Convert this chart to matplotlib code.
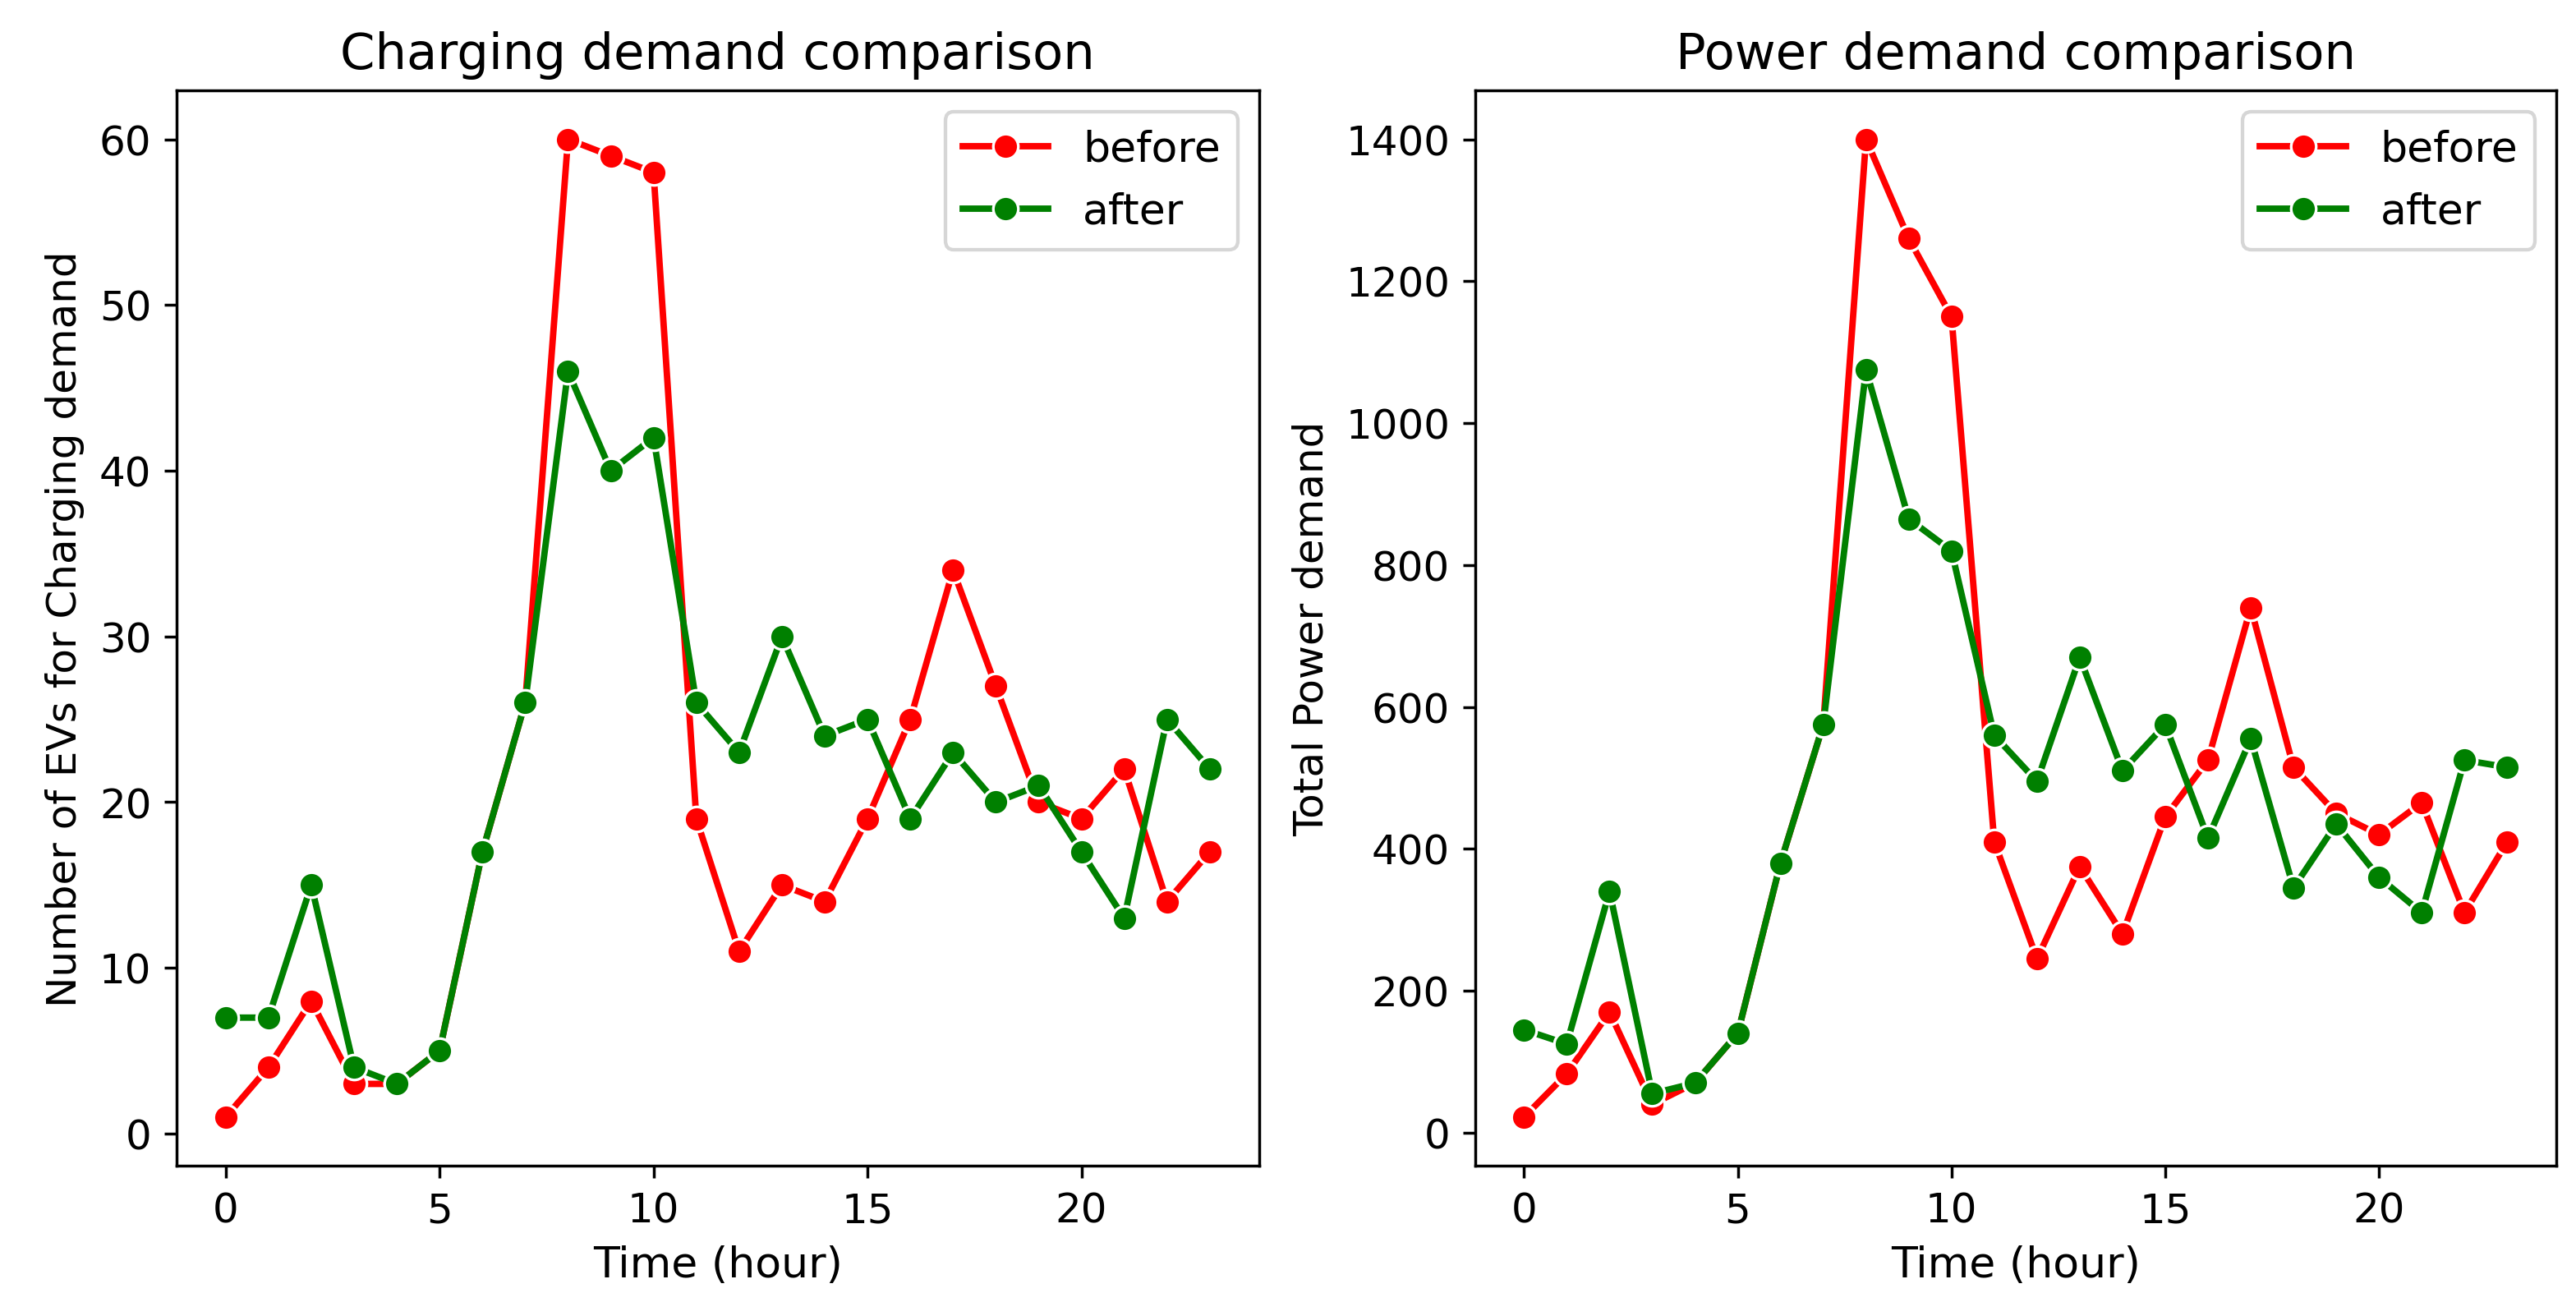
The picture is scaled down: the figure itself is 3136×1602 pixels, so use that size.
import matplotlib
matplotlib.use('Agg')
import matplotlib.pyplot as plt
import seaborn as sns

hours = list(range(24))

ev_before = [1, 4, 8, 3, 3, 5, 17, 26, 60, 59, 58, 19, 11, 15, 14, 19, 25, 34, 27, 20, 19, 22, 14, 17]
ev_after = [7, 7, 15, 4, 3, 5, 17, 26, 46, 40, 42, 26, 23, 30, 24, 25, 19, 23, 20, 21, 17, 13, 25, 22]

power_before = [22, 83, 170, 40, 70, 140, 380, 575, 1400, 1260, 1150, 410, 245, 375, 280, 445,
                525, 740, 515, 450, 420, 465, 310, 410]
power_after = [145, 125, 340, 55, 70, 140, 380, 575, 1075, 865, 820, 560, 495, 670, 510, 575,
               415, 555, 345, 435, 360, 310, 525, 515]

fig = plt.figure(figsize=(10.02, 5.12), dpi=313)
ax1 = fig.add_axes([0.0685, 0.114, 0.4202, 0.817])
ax2 = fig.add_axes([0.5725, 0.114, 0.4198, 0.817])

# left panel: number of EVs
sns.lineplot(x=hours, y=ev_before, marker='o', color='red', label='before', ax=ax1,
             linewidth=1.8, markersize=7)
sns.lineplot(x=hours, y=ev_after, marker='o', color='green', label='after', ax=ax1,
             linewidth=1.8, markersize=7)
ax1.set_title('Charging demand comparison', fontsize=14)
ax1.set_xlabel('Time (hour)', fontsize=12)
ax1.set_ylabel('Number of EVs for Charging demand', fontsize=11.5)
ax1.tick_params(labelsize=11.5)
ax1.legend(loc='upper right', fontsize=12)

# right panel: total power
sns.lineplot(x=hours, y=power_before, marker='o', color='red', label='before', ax=ax2,
             linewidth=1.8, markersize=7)
sns.lineplot(x=hours, y=power_after, marker='o', color='green', label='after', ax=ax2,
             linewidth=1.8, markersize=7)
ax2.set_title('Power demand comparison', fontsize=14)
ax2.set_xlabel('Time (hour)', fontsize=12)
ax2.set_ylabel('Total Power demand', fontsize=11.5)
ax2.tick_params(labelsize=11.5)
ax2.legend(loc='upper right', fontsize=12)

fig.savefig('out.png', dpi=313)
